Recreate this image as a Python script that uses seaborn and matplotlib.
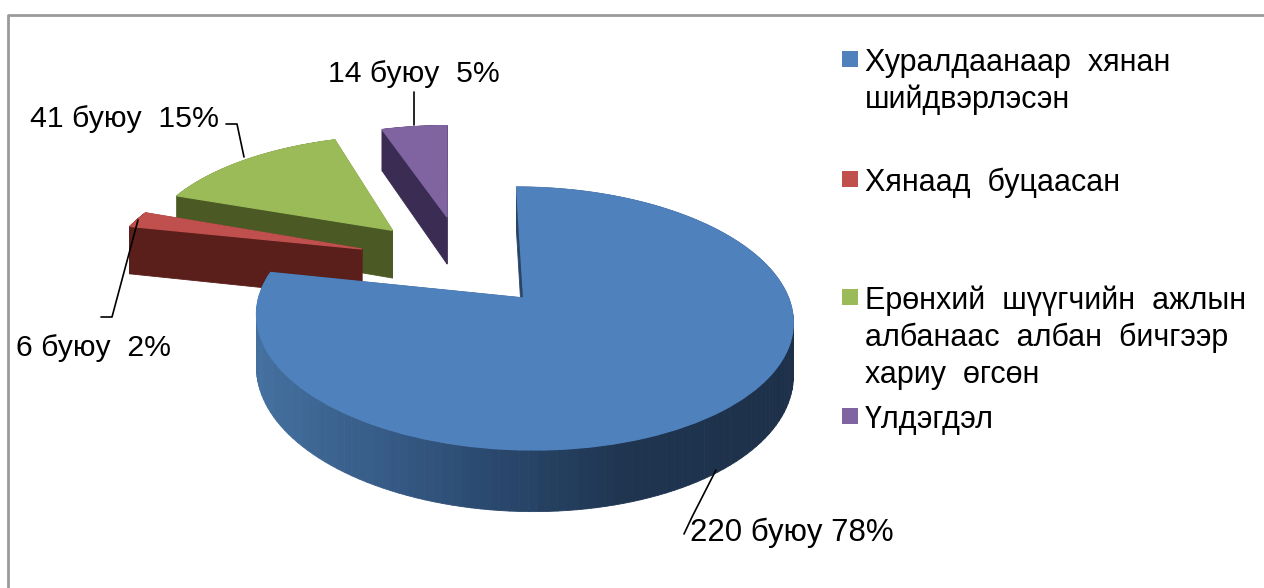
import numpy as np
import matplotlib
matplotlib.use("Agg")
import matplotlib.pyplot as plt
from matplotlib.collections import PolyCollection
from matplotlib.patches import Rectangle
from matplotlib.transforms import Transform
import seaborn as sns

# values
names = ["Хуралдаанаар  хянан\nшийдвэрлэсэн", "Хянаад  буцаасан",
         "Ерөнхий  шүүгчийн  ажлын\nалбанаас  албан  бичгээр\nхариу  өгсөн", "Үлдэгдэл"]
counts = [220, 6, 41, 14]
percents = [78, 2, 15, 5]
colors = ["#4F81BD", "#C0504D", "#9BBB59", "#8064A2"]
wall_colors = ["#1F3550", "#5A1F1B", "#4B5A24", "#3A2C52"]

# layout, all in pixels of the 1264x588 picture
CX, CY = 522, 298
RX, RY, PERSP, DEPTH = 265, 128.3, 0.156, 52
slice_shift = [(0.006, 0), (-0.642, 0.406), (-0.533, 0.575), (-0.314, 0.70)]
slice_skew = [-0.03, 0, -0.035, -0.044]
slice_z = [4, 3, 2, 1]
label_pos = [(690, 541), (16, 356), (30, 127), (328, 82)]
label_size = [22.4, 21.7, 21.8, 21.7]
leaders = [[(716, 470), (692, 517), (684, 534)],
           [(138, 220), (112, 317), (101, 317)],
           [(244, 157), (237, 124), (226, 124)],
           [(414, 125), (414, 92)]]
legend_y = [(51, 71), (171, 191), (289, 309), (408, 428)]


def project(pts, shift=(0, 0), skew=0.0, drop=0.0):
    # circle coordinates to picture pixels, with a little perspective
    pts = np.asarray(pts, dtype=float)
    x = pts[:, 0] + shift[0] + skew * pts[:, 1]
    y = pts[:, 1] + shift[1]
    w = 1 + PERSP * y
    return np.column_stack([CX + RX * x / w, CY - RY * y / w + drop / w])


class SliceProjection(Transform):
    input_dims = 2
    output_dims = 2
    is_separable = False

    def __init__(self, shift, skew):
        super().__init__()
        self.shift = shift
        self.skew = skew

    def transform_non_affine(self, values):
        return project(values, self.shift, self.skew)


sns.set_theme(style="white")
plt.rcParams["font.family"] = ["Liberation Sans", "DejaVu Sans"]

fig = plt.figure(figsize=(12.64, 5.88), dpi=100)
ax = fig.add_axes([0, 0, 1, 1])
wedges, _ = ax.pie(counts, colors=colors, startangle=90, counterclock=False)
ax.set_aspect("auto")
ax.set_xlim(0, 1264)
ax.set_ylim(588, 0)
ax.set_frame_on(False)

# front wall colours of the big slice go from lighter left to dark right
rim_ramp = sns.blend_palette(["#44709F", "#2F5079", "#1F3550", "#1D3049"], 64)

for i, wedge in enumerate(wedges):
    shift, skew, z = slice_shift[i], slice_skew[i], slice_z[i]
    wedge.set_transform(SliceProjection(shift, skew) + ax.transData)
    wedge.set_zorder(z + 0.5)
    wedge.set_edgecolor(colors[i])
    wedge.set_linewidth(0.9)
    theta = np.radians(np.linspace(wedge.theta1, wedge.theta2, 160))
    rim = np.column_stack([np.cos(theta), np.sin(theta)])
    outline = np.vstack([[[0, 0]], rim, [[0, 0]]])
    top = project(outline, shift, skew)
    bottom = project(outline, shift, skew, DEPTH)
    quads = [[top[k], top[k + 1], bottom[k + 1], bottom[k]] for k in range(len(top) - 1)]
    if i == 0:
        left, right = top[:, 0].min(), top[:, 0].max()
        shades = [rim_ramp[int(63 * (q[0][0] - left) / (right - left))] for q in quads]
    else:
        shades = [wall_colors[i]] * len(quads)
    ax.add_collection(PolyCollection(quads, facecolors=shades, edgecolors=shades,
                                     linewidths=0.6, zorder=z))

for n, p, pos, size, line in zip(counts, percents, label_pos, label_size, leaders):
    sep = " " if n == 220 else "  "
    ax.text(pos[0], pos[1], f"{n} буюу{sep}{p}%", fontsize=size, color="black",
            va="baseline", ha="left", zorder=8)
    ax.plot(*zip(*line), color="black", lw=1.2, zorder=7)

for name, c, (box_top, base) in zip(names, colors, legend_y):
    ax.add_patch(Rectangle((842, box_top), 16, 16, facecolor=c, edgecolor="none"))
    for k, row in enumerate(name.split("\n")):
        ax.text(865, base + k * 37, row, fontsize=22, color="black", va="baseline", ha="left")

# chart frame
ax.plot([8, 8, 1264], [588, 15, 15], color="#9A9A9A", lw=2, zorder=9)

fig.savefig("out.png", dpi=100, facecolor="white")
